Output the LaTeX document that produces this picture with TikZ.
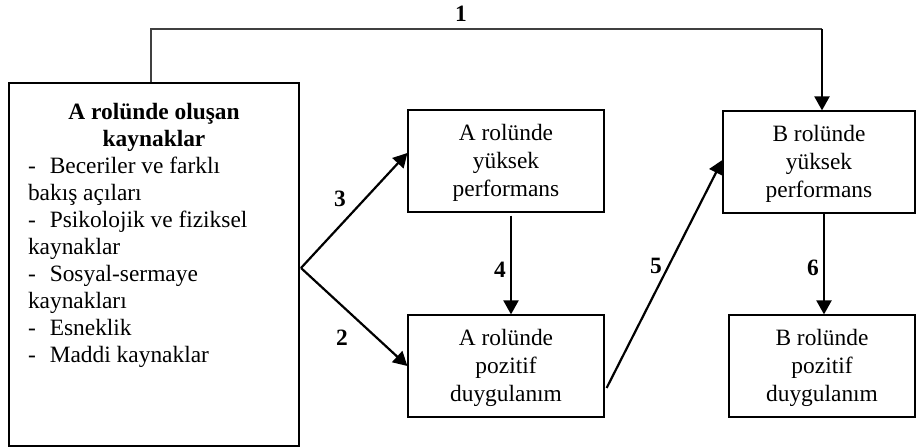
\documentclass[tikz,border=0pt]{standalone}
\usepackage{fontspec}
\setmainfont{Liberation Serif}
\usepackage{tikz}
\usetikzlibrary{arrows.meta, calc, positioning}

\tikzset{
    txt/.style={font=\fontsize{11.7}{13.5}\selectfont},
    stagebox/.style={font=\fontsize{11.7}{14}\selectfont, draw, line width=0.6pt,
        align=center, inner sep=0pt, text depth=1pt,
        minimum width=98pt, minimum height=51pt},
    resbox/.style={txt, draw, line width=0.6pt, inner sep=0pt,
        minimum width=145pt, minimum height=181.5pt},
    flow/.style={line width=1.1pt, -{Triangle[length=7pt,width=7.5pt]}},
    link/.style={line width=0.6pt, black!75},
    numlbl/.style={font=\fontsize{11.7}{13.5}\selectfont\bfseries, inner sep=1pt}
}

\begin{document}
\begin{tikzpicture}[x=0.5pt, y=-0.5pt]
    \useasboundingbox (0,0) rectangle (916,448);

    % Resource box
    \node[resbox] (res) at (154,264.5) {\parbox[c][181.5pt][t]{126pt}{%
        \vspace*{10pt}%
        {\centering\bfseries A rolünde oluşan\\kaynaklar\par}%
        \raggedright
        -\hspace{7pt}Beceriler ve farklı\\
        bakış açıları\\
        -\hspace{7pt}Psikolojik ve fiziksel\\
        kaynaklar\\
        -\hspace{7pt}Sosyal-sermaye\\
        kaynakları\\
        -\hspace{7pt}Esneklik\\
        -\hspace{7pt}Maddi kaynaklar\par}};

    % Role A and role B boxes
    \node[stagebox] (ahigh) at (506,161) {A rolünde\\yüksek\\performans};
    \node[stagebox] (apos) at (506,366) {A rolünde\\pozitif\\duygulanım};
    \node[stagebox, minimum width=96pt] (bhigh) at (819,162) {B rolünde\\yüksek\\performans};
    \node[stagebox, minimum width=93pt] (bpos) at (822,366) {B rolünde\\pozitif\\duygulanım};

    % Helper points
    \coordinate (fork) at (301,268);
    \coordinate (top1) at (151,29);
    \coordinate (top2) at (822,29);

    % Path 1 (over the top)
    \draw[link] (top1 |- res.north) -- (top1) -- (top2);
    \draw[flow] (top2) -- (top2 |- bhigh.north);

    % Paths 2 and 3 (from the resources)
    \draw[flow] (fork) -- ([yshift=4pt]ahigh.west);
    \draw[flow] (fork) -- (apos.west);

    % Paths 4, 5 and 6
    \draw[flow] ([xshift=2.5pt, yshift=-1.5pt]ahigh.south) -- ([xshift=2.5pt]apos.north);
    \draw[flow] ([xshift=1pt, yshift=-11pt]apos.east) -- ([yshift=1pt]bhigh.west);
    \draw[flow] ([xshift=1pt]bpos.north |- bhigh.south) -- ([xshift=1pt]bpos.north);

    % Path numbers
    \node[numlbl] (n1) at (461,14) {1};
    \node[numlbl] (n2) at (342,338) {2};
    \node[numlbl] (n3) at (340,199) {3};
    \node[numlbl] (n4) at (500,270) {4};
    \node[numlbl] (n5) at (656,266) {5};
    \node[numlbl] (n6) at (813,268) {6};
\end{tikzpicture}
\end{document}
